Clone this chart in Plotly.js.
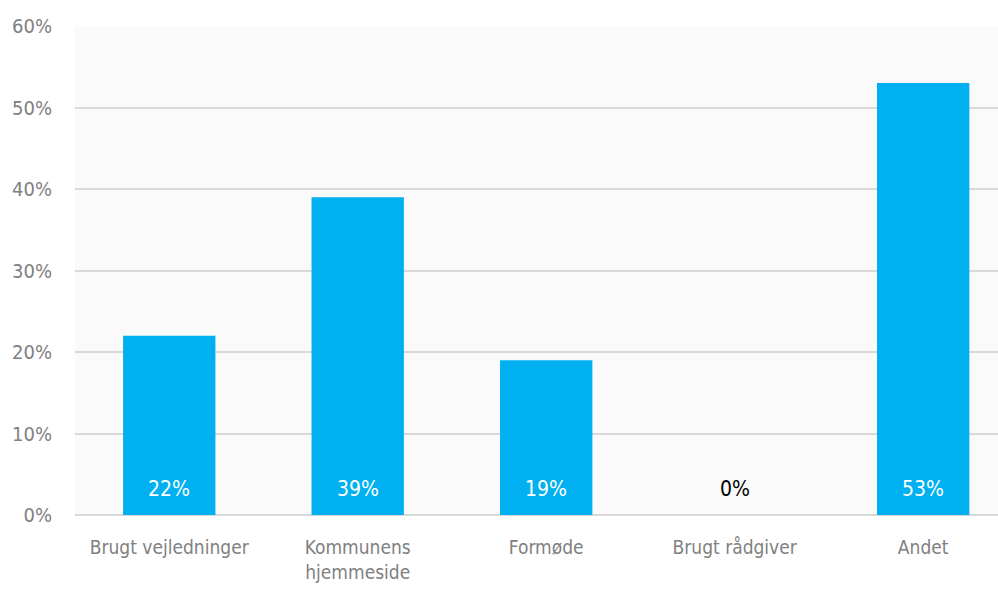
<!DOCTYPE html>
<html>
<head>
<meta charset="utf-8">
<script src="https://cdn.plot.ly/plotly-3.0.1.min.js"></script>
<style>html,body{margin:0;padding:0;background:#fff;}#chart{width:998px;height:590px;}</style>
</head>
<body>
<div id="chart"></div>
<script>
var categories = ["Brugt vejledninger", "Kommunens<br>hjemmeside", "Formøde", "Brugt rådgiver", "Andet"];
var values = [22, 39, 19, 0, 53];
var yTickVals = [0, 10, 20, 30, 40, 50, 60];
var yTickText = ["0%", "10%", "20%", "30%", "40%", "50%", "60%"];

var FONT = "DejaVu Sans Condensed, Liberation Sans Narrow, sans-serif";

var trace = {
  type: "bar",
  x: categories,
  y: values,
  marker: {color: "#00b0f0"},
  width: 0.49,
  hoverinfo: "none"
};

var annotations = categories.map(function (c, i) {
  return {
    x: c, y: 0, xref: "x", yref: "y",
    text: values[i] + "%",
    showarrow: false,
    yanchor: "middle",
    yshift: 26,
    font: {family: FONT, size: 21, color: values[i] > 0 ? "#ffffff" : "#000000"}
  };
});

var layout = {
  width: 998, height: 590,
  margin: {l: 75, r: 0, t: 26, b: 75},
  paper_bgcolor: "#ffffff",
  plot_bgcolor: "#fafafa",
  showlegend: false,
  bargap: 0.51,
  xaxis: {
    type: "category",
    range: [-0.5, 4.397],
    tickfont: {family: FONT, size: 19, color: "#808080"},
    showgrid: false,
    zeroline: false,
    showline: false,
    ticks: "outside", ticklen: 15, tickcolor: "rgba(0,0,0,0)"
  },
  yaxis: {
    range: [0, 60],
    tickvals: yTickVals,
    ticktext: yTickText,
    tickfont: {family: FONT, size: 20, color: "#808080"},
    showgrid: true,
    gridcolor: "#d9d9d9",
    gridwidth: 2,
    zeroline: true,
    zerolinecolor: "#d9d9d9",
    zerolinewidth: 2,
    showline: false,
    ticklabelstandoff: 22
  },
  annotations: annotations
};

Plotly.newPlot("chart", [trace], layout, {staticPlot: true, displayModeBar: false});
</script>
</body>
</html>
